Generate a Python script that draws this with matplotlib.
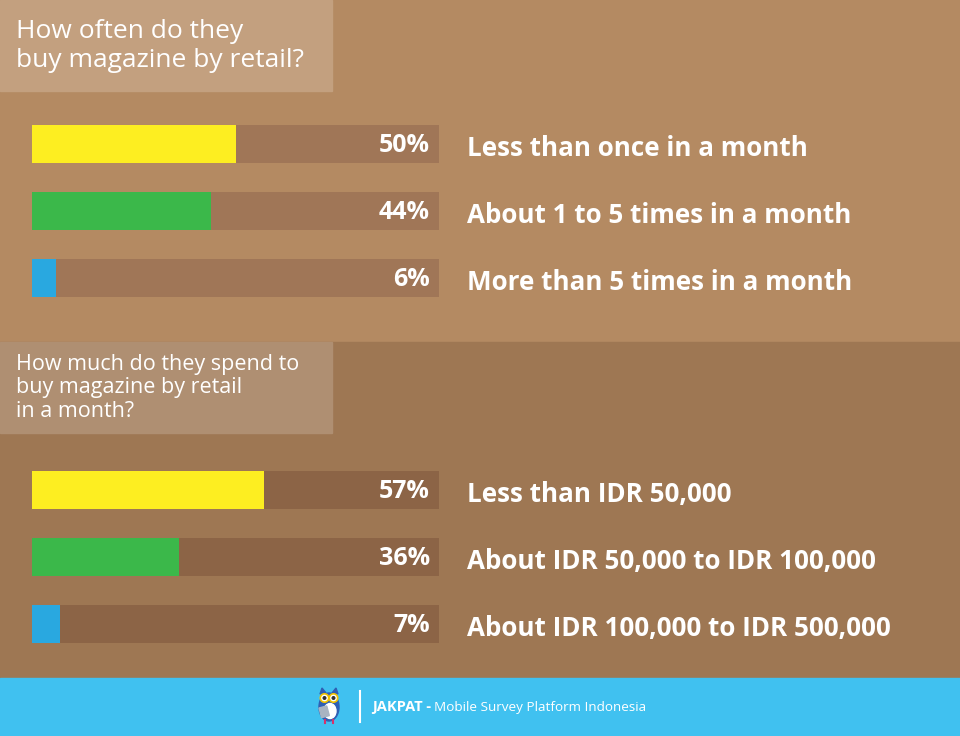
import matplotlib.pyplot as plt
from matplotlib.patches import Rectangle, Circle, Ellipse, Polygon

# data
freq_labels = ['Less than once in a month', 'About 1 to 5 times in a month', 'More than 5 times in a month']
freq_values = [50, 44, 6]
spend_labels = ['Less than IDR 50,000', 'About IDR 50,000 to IDR 100,000', 'About IDR 100,000 to IDR 500,000']
spend_values = [57, 36, 7]
bar_colors = ['#FDEE21', '#3BB84A', '#29A8E0']

q1 = 'How often do they\nbuy magazine by retail?'
q2 = 'How much do they spend to\nbuy magazine by retail\nin a month?'

W, H = 960, 736
fig = plt.figure(figsize=(9.6, 7.36), dpi=100)

# background layer in pixel coordinates
bg = fig.add_axes([0, 0, 1, 1])
bg.set_xlim(0, W)
bg.set_ylim(H, 0)
bg.axis('off')
bg.add_patch(Rectangle((0, 0), W, 342, color='#B48A62'))
bg.add_patch(Rectangle((0, 342), W, 336, color='#9E7753'))
bg.add_patch(Rectangle((0, 678), W, 58, color='#40C1F0'))
bg.add_patch(Rectangle((0, 0), 332, 91, color='#C3A07F'))
bg.add_patch(Rectangle((0, 342), 332, 91, color='#AF8F72'))

bg.text(16, 46, q1, color='white', fontsize=19, family='Open Sans',
        va='center', ha='left', linespacing=1.17)
bg.text(16, 388, q2, color='white', fontsize=15.5, family='Open Sans',
        va='center', ha='left', linespacing=1.13)

# footer
bg.plot([360, 360], [691, 722], color='white', lw=1.5)
bg.text(372, 706, 'JAKPAT -', color='white', fontsize=10.5, fontweight='bold',
        family='Open Sans', va='center_baseline', ha='left')
bg.text(434, 706, 'Mobile Survey Platform Indonesia', color='white', fontsize=9.7,
        family='Open Sans', va='center_baseline', ha='left')
# small owl mark
bg.add_patch(Polygon([(320, 694), (322, 688), (326, 693)], color='#2F5FB3'))
bg.add_patch(Polygon([(338, 694), (336, 688), (332, 693)], color='#2F5FB3'))
bg.add_patch(Ellipse((329, 707), 20, 28, color='#2F5FB3'))
bg.add_patch(Ellipse((330, 711), 12, 15, color='white'))
bg.add_patch(Rectangle((319, 708), 8, 10, angle=-15, color='#A9B4C2'))
bg.add_patch(Circle((324.5, 698), 4.2, color='white', ec='#F2C300', lw=1.2))
bg.add_patch(Circle((333.5, 698), 4.2, color='white', ec='#F2C300', lw=1.2))
bg.add_patch(Circle((324.5, 698), 1.3, color='#333333'))
bg.add_patch(Circle((333.5, 698), 1.3, color='#333333'))
bg.plot([325, 325], [720, 723], color='#D6336C', lw=1.5)
bg.plot([333, 333], [720, 723], color='#D6336C', lw=1.5)


def bar_block(top, values, labels, track):
    # 3 bars, 38 px tall, 67 px apart
    h = 38 / 67
    bottom = top + 2 * 67 + 38
    ax = fig.add_axes([32 / W, (H - bottom) / H, 407 / W, (bottom - top) / H])
    ax.set_xlim(0, 100)
    ax.set_ylim(2 + h / 2, -h / 2)
    ax.axis('off')
    ypos = range(len(values))
    ax.barh(ypos, [100] * len(values), height=h, color=track)
    ax.barh(ypos, values, height=h, color=bar_colors)
    for y, v, lab in zip(ypos, values, labels):
        ax.text(97.8, y - 0.02, f'{v}%', color='white', fontsize=18, fontweight='bold',
                family='Open Sans', ha='right', va='center_baseline')
        ax.text(106.9, y + 0.02, lab, color='white', fontsize=18.7, fontweight='bold',
                family='Open Sans', ha='left', va='center_baseline', clip_on=False)


bar_block(125, freq_values, freq_labels, '#A07657')
bar_block(471, spend_values, spend_labels, '#8C6446')

fig.savefig('out.png', dpi=100)
